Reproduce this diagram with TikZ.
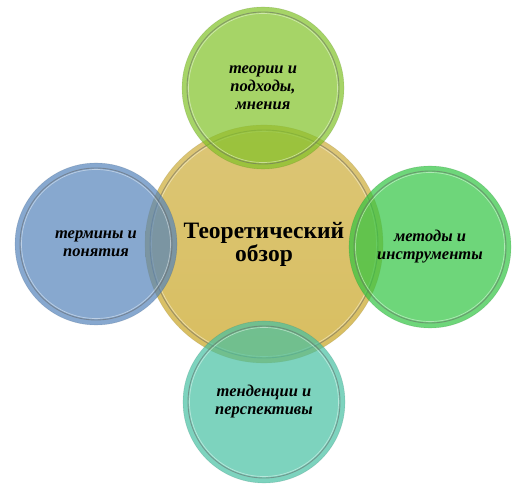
\documentclass[tikz,border=0pt]{standalone}
\usepackage{fontspec}
\setmainfont{Liberation Serif}
\definecolor{coreGold}{RGB}{216,190,96}
\definecolor{coreGoldTop}{RGB}{220,198,118}
\definecolor{leafLime}{RGB}{128,194,39}
\definecolor{leafBlue}{RGB}{84,131,186}
\definecolor{leafGreen}{RGB}{48,196,65}
\definecolor{leafTeal}{RGB}{70,192,162}
\tikzset{
  ring/.style={draw=black!60,draw opacity=.55,line width=.9pt},
  shine/.style={draw=white,draw opacity=.45,line width=.7pt},
  bubble/.style={circle,minimum size=162pt,inner sep=0pt,align=center,
    fill=#1,fill opacity=.7,text opacity=1,draw=#1!60!black,draw opacity=.2,line width=.6pt,
    font=\bfseries\itshape\fontsize{16.5}{18}\selectfont,
    path picture={\draw[ring] (path picture bounding box.center) circle (76pt);
                  \draw[shine] (path picture bounding box.center) circle (74.5pt);}},
}
\begin{document}
\begin{tikzpicture}[x=1pt,y=-1pt]
\useasboundingbox (0,0) rectangle (525,494);
\node[circle,minimum size=238pt,inner sep=0pt,align=center,top color=coreGoldTop,bottom color=coreGold,
  draw=coreGold!70!black,draw opacity=.25,line width=.6pt,font=\bfseries\fontsize{23.5}{23}\selectfont,
  path picture={\draw[ring] (path picture bounding box.center) circle (114pt);
                \draw[shine] (path picture bounding box.center) circle (112.5pt);}]
  (core) at (264,244) {Теоретический\\обзор};
\node[bubble=leafLime] (theories) at (263,88) {теории и\\подходы,\\мнения};
\node[bubble=leafBlue] (terms) at (96,244) {термины и\\понятия};
\node[bubble=leafGreen] (methods) at (430,247) {методы и\\инструменты};
\node[bubble=leafTeal] (trends) at (264,402) {тенденции и\\перспективы};
\end{tikzpicture}
\end{document}
